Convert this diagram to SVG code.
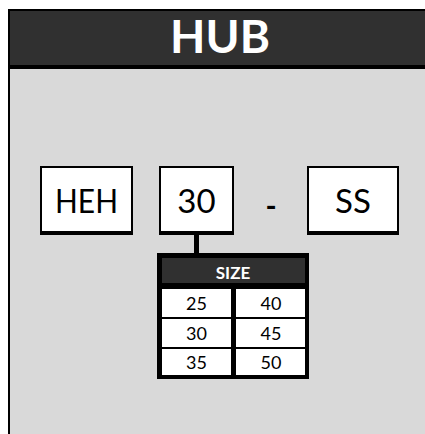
<svg xmlns="http://www.w3.org/2000/svg" width="425" height="434" viewBox="0 0 425 434">
<style>
.box{fill:#fff;stroke:#000;stroke-width:2}
.t{font-family:Lato,"Open Sans","Liberation Sans",sans-serif;fill:#000;text-anchor:middle}
.w{fill:#fff;font-weight:bold}
.cell{fill:#fff}
</style>
<rect x="0" y="0" width="425" height="434" fill="#fff"/>
<g id="frame">
<rect x="8" y="9" width="417" height="425" fill="#000"/>
<rect x="10" y="11" width="415" height="54" fill="#303030"/>
<rect x="10" y="69" width="415" height="365" fill="#d9d9d9"/>
<text class="t w" x="220" y="53" font-size="46">HUB</text>
</g>
<g id="connectors">
<rect x="194" y="234" width="5" height="20" fill="#000"/>
</g>
<g id="heh">
<rect class="box" x="41" y="167" width="91" height="66"/>
<rect x="40" y="231" width="93" height="4" fill="#000"/>
<text class="t" x="86.5" y="213" font-size="33" textLength="63" lengthAdjust="spacingAndGlyphs">HEH</text>
</g>
<g id="size30">
<rect class="box" x="160" y="167" width="73" height="66"/>
<rect x="159" y="231" width="75" height="4" fill="#000"/>
<text class="t" x="196.5" y="213" font-size="33">30</text>
</g>
<g id="dash">
<text class="t" x="271" y="217" font-size="30" font-weight="bold">-</text>
</g>
<g id="ss">
<rect class="box" x="308" y="167" width="90" height="66"/>
<rect x="307" y="231" width="92" height="4" fill="#000"/>
<text class="t" x="353" y="213" font-size="33">SS</text>
</g>
<g id="size-table">
<rect x="157" y="253" width="152" height="126" fill="#000"/>
<rect x="162" y="258" width="143" height="25" fill="#303030"/>
<text class="t w" x="233" y="279" font-size="17">SIZE</text>
<rect class="cell" x="162" y="289" width="69" height="28"/>
<rect class="cell" x="236" y="289" width="69" height="28"/>
<rect class="cell" x="162" y="319" width="69" height="28"/>
<rect class="cell" x="236" y="319" width="69" height="28"/>
<rect class="cell" x="162" y="349" width="69" height="26"/>
<rect class="cell" x="236" y="349" width="69" height="26"/>
<text class="t" x="196.5" y="310" font-size="18">25</text>
<text class="t" x="271" y="310" font-size="18">40</text>
<text class="t" x="196.5" y="340" font-size="18">30</text>
<text class="t" x="271" y="340" font-size="18">45</text>
<text class="t" x="196.5" y="369" font-size="18">35</text>
<text class="t" x="271" y="369" font-size="18">50</text>
</g>
</svg>
